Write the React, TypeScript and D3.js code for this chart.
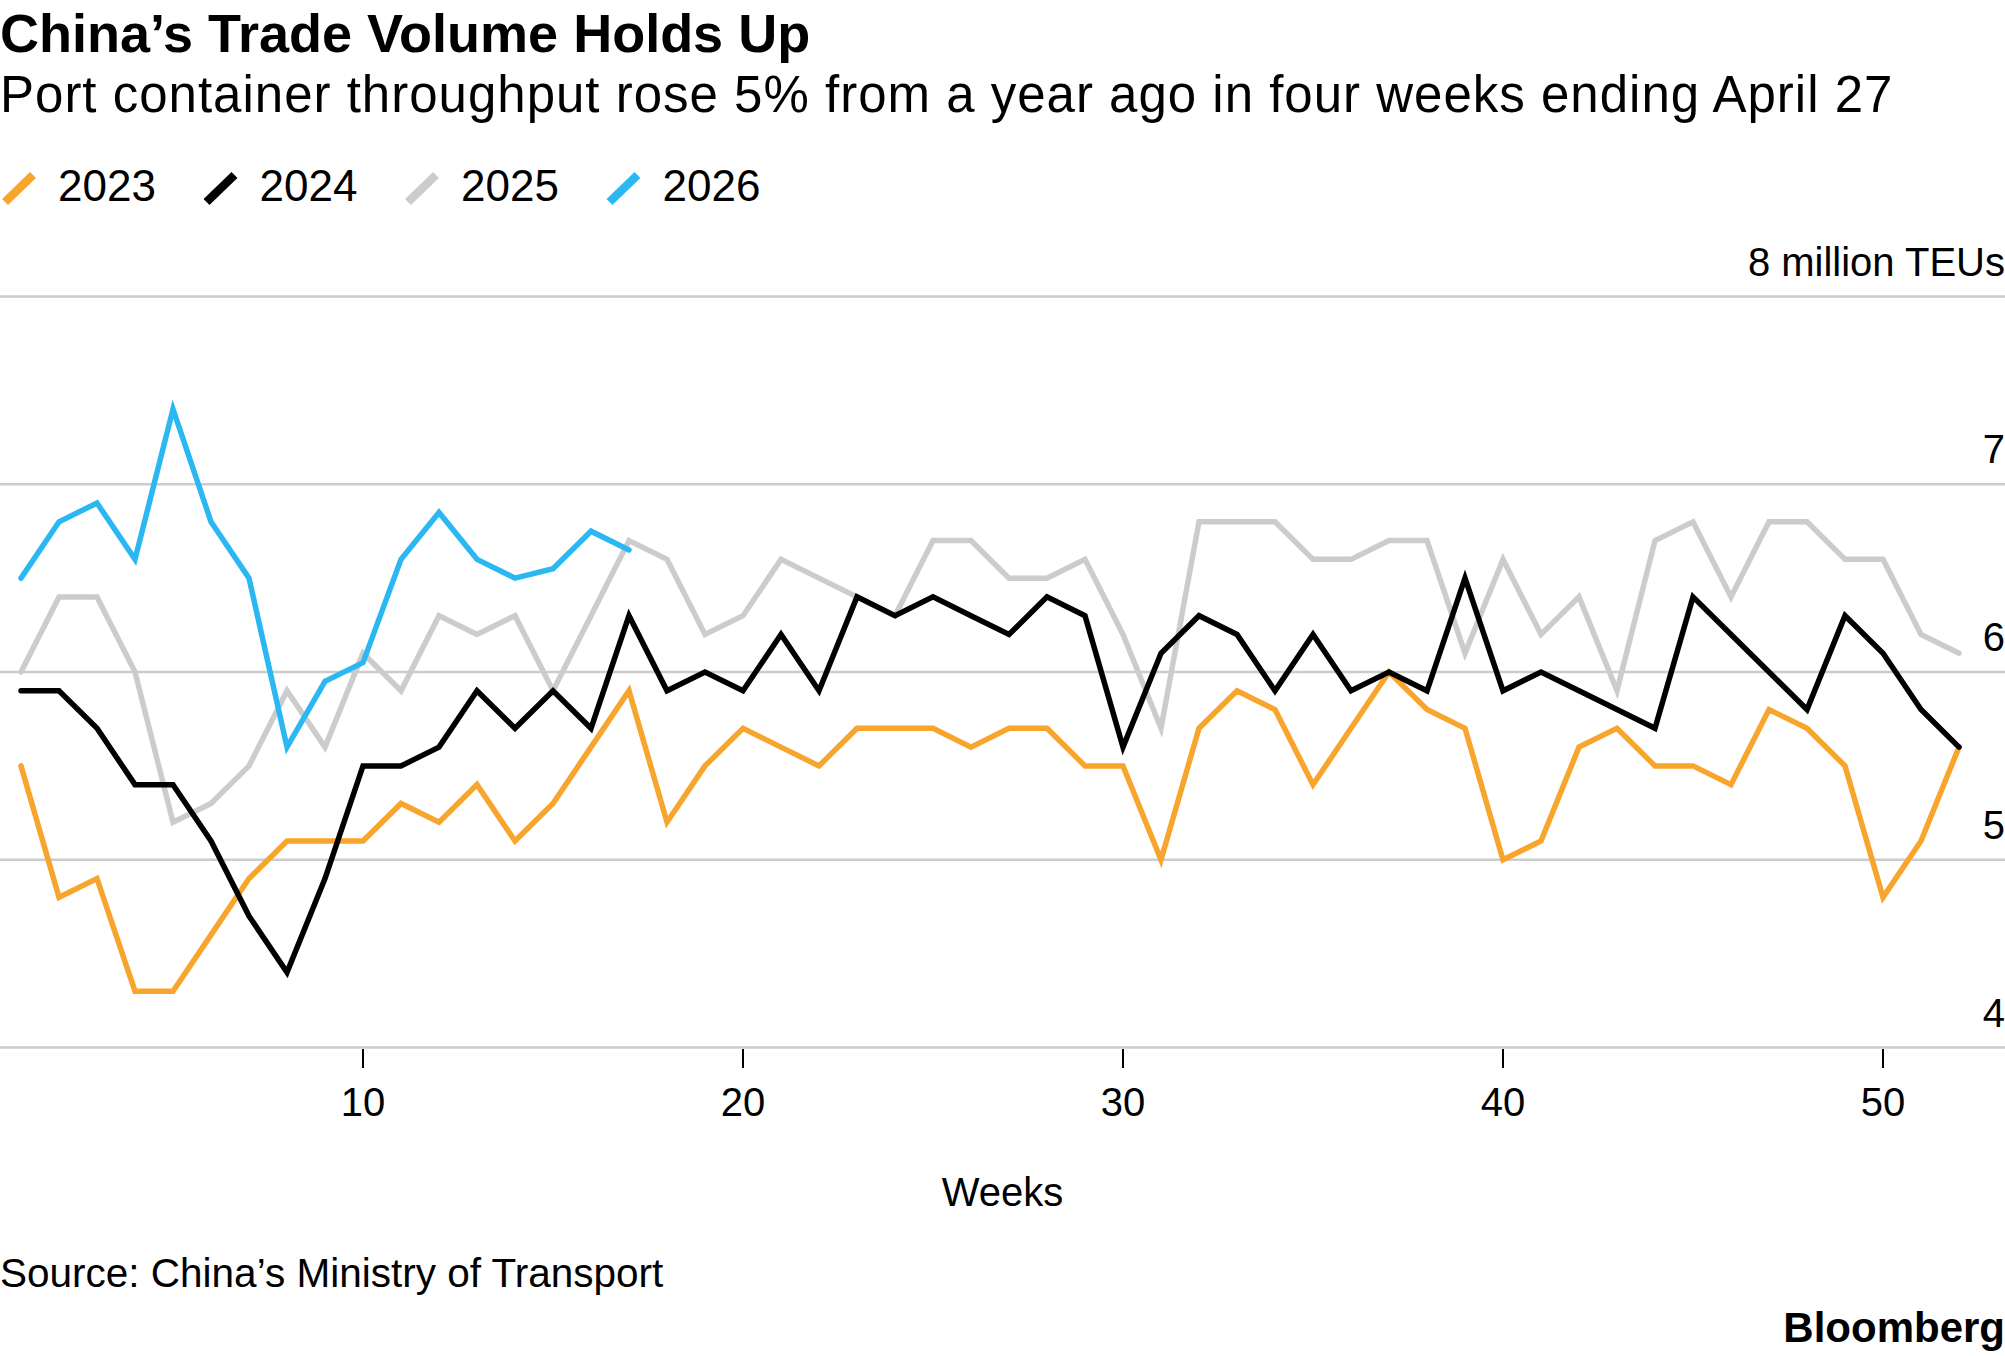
import { useEffect, useRef } from "react";
import * as d3 from "d3";

// Weekly port container throughput, million TEUs (weeks 1..52)
const years = ["2023", "2024", "2025", "2026"];
const colors = ["#f7a52c", "#000000", "#cccccc", "#2bb8f2"];

const v2023 = [
  5.5, 4.8, 4.9, 4.3, 4.3, 4.6, 4.9, 5.1, 5.1, 5.1, 5.3, 5.2, 5.4, 5.1, 5.3, 5.6,
  5.9, 5.2, 5.5, 5.7, 5.6, 5.5, 5.7, 5.7, 5.7, 5.6, 5.7, 5.7, 5.5, 5.5, 5.0, 5.7,
  5.9, 5.8, 5.4, 5.7, 6.0, 5.8, 5.7, 5.0, 5.1, 5.6, 5.7, 5.5, 5.5, 5.4, 5.8, 5.7,
  5.5, 4.8, 5.1, 5.6,
];
const v2024 = [
  5.9, 5.9, 5.7, 5.4, 5.4, 5.1, 4.7, 4.4, 4.9, 5.5, 5.5, 5.6, 5.9, 5.7, 5.9, 5.7,
  6.3, 5.9, 6.0, 5.9, 6.2, 5.9, 6.4, 6.3, 6.4, 6.3, 6.2, 6.4, 6.3, 5.6, 6.1, 6.3,
  6.2, 5.9, 6.2, 5.9, 6.0, 5.9, 6.5, 5.9, 6.0, 5.9, 5.8, 5.7, 6.4, 6.2, 6.0, 5.8,
  6.3, 6.1, 5.8, 5.6,
];
const v2025 = [
  6.0, 6.4, 6.4, 6.0, 5.2, 5.3, 5.5, 5.9, 5.6, 6.1, 5.9, 6.3, 6.2, 6.3, 5.9, 6.3,
  6.7, 6.6, 6.2, 6.3, 6.6, 6.5, 6.4, 6.3, 6.7, 6.7, 6.5, 6.5, 6.6, 6.2, 5.7, 6.8,
  6.8, 6.8, 6.6, 6.6, 6.7, 6.7, 6.1, 6.6, 6.2, 6.4, 5.9, 6.7, 6.8, 6.4, 6.8, 6.8,
  6.6, 6.6, 6.2, 6.1,
];
const v2026 = [
  6.5, 6.8, 6.9, 6.6, 7.4, 6.8, 6.5, 5.6, 5.95, 6.05, 6.6, 6.85, 6.6, 6.5, 6.55,
  6.75, 6.65,
];

const yTicks = [4, 5, 6, 7, 8];
const xTicks = [10, 20, 30, 40, 50];

const FONT = "'Liberation Sans', Arial, Helvetica, sans-serif";

export default function App() {
  const svgRef = useRef<SVGSVGElement>(null);

  useEffect(() => {
    document.body.style.margin = "0";
    if (!svgRef.current) return;

    const width = 2005;
    const height = 1356;
    const svg = d3.select(svgRef.current);
    svg.selectAll("*").remove();
    svg.attr("width", width).attr("height", height);

    const xScale = d3.scaleLinear().domain([1, 52]).range([21, 1959]);
    const yScale = d3.scaleLinear().domain([4, 8]).range([1047.5, 296.5]);

    // Title block
    svg
      .append("text")
      .attr("x", 0)
      .attr("y", 52)
      .attr("font-family", FONT)
      .attr("font-weight", 700)
      .attr("font-size", 54)
      .text("China\u2019s Trade Volume Holds Up");

    svg
      .append("text")
      .attr("x", 0)
      .attr("y", 112)
      .attr("font-family", FONT)
      .attr("font-size", 51)
      .attr("letter-spacing", 1)
      .text(
        "Port container throughput rose 5% from a year ago in four weeks ending April 27"
      );

    // Legend
    const legend = svg
      .append("g")
      .selectAll("g")
      .data(years)
      .join("g")
      .attr("transform", (_d, i) => `translate(${i * 201.5},0)`);

    legend
      .append("line")
      .attr("x1", 5)
      .attr("y1", 202)
      .attr("x2", 33)
      .attr("y2", 175)
      .attr("stroke", (_d, i) => colors[i])
      .attr("stroke-width", 8.5);

    legend
      .append("text")
      .attr("x", 58)
      .attr("y", 201)
      .attr("font-family", FONT)
      .attr("font-size", 44)
      .text((d) => d);

    // Grid lines
    svg
      .append("g")
      .selectAll("line")
      .data(yTicks)
      .join("line")
      .attr("x1", 0)
      .attr("x2", width)
      .attr("y1", (d) => yScale(d))
      .attr("y2", (d) => yScale(d))
      .attr("stroke", "#cccccc")
      .attr("stroke-width", 2.5);

    // Y labels (right side, above grid lines)
    svg
      .append("g")
      .selectAll("text")
      .data(yTicks)
      .join("text")
      .attr("x", width)
      .attr("y", (d) => yScale(d) - 21)
      .attr("text-anchor", "end")
      .attr("font-family", FONT)
      .attr("font-size", 40)
      .text((d) => (d === 8 ? "8 million TEUs" : String(d)));

    // X axis ticks
    const xAxis = svg.append("g");
    xAxis
      .selectAll("line")
      .data(xTicks)
      .join("line")
      .attr("x1", (d) => xScale(d))
      .attr("x2", (d) => xScale(d))
      .attr("y1", 1049)
      .attr("y2", 1068)
      .attr("stroke", "#000")
      .attr("stroke-width", 2);
    xAxis
      .selectAll("text")
      .data(xTicks)
      .join("text")
      .attr("x", (d) => xScale(d))
      .attr("y", 1116)
      .attr("text-anchor", "middle")
      .attr("font-family", FONT)
      .attr("font-size", 40)
      .text((d) => d);

    svg
      .append("text")
      .attr("x", width / 2)
      .attr("y", 1206)
      .attr("text-anchor", "middle")
      .attr("font-family", FONT)
      .attr("font-size", 40)
      .text("Weeks");

    // Lines
    const line = d3
      .line<number>()
      .x((_d, i) => xScale(i + 1))
      .y((d) => yScale(d));

    const series = [
      { values: v2025, color: colors[2] },
      { values: v2023, color: colors[0] },
      { values: v2024, color: colors[1] },
      { values: v2026, color: colors[3] },
    ];

    svg
      .append("g")
      .selectAll("path")
      .data(series)
      .join("path")
      .attr("fill", "none")
      .attr("stroke", (d) => d.color)
      .attr("stroke-width", 5.5)
      .attr("stroke-linecap", "round")
      .attr("d", (d) => line(d.values));

    // Footer
    svg
      .append("text")
      .attr("x", 0)
      .attr("y", 1287)
      .attr("font-family", FONT)
      .attr("font-size", 40.5)
      .text("Source: China\u2019s Ministry of Transport");

    svg
      .append("text")
      .attr("x", width)
      .attr("y", 1342)
      .attr("text-anchor", "end")
      .attr("font-family", FONT)
      .attr("font-weight", 700)
      .attr("font-size", 42)
      .text("Bloomberg");
  }, []);

  return <svg ref={svgRef} style={{ display: "block" }} viewBox="0 0 2005 1356" />;
}
